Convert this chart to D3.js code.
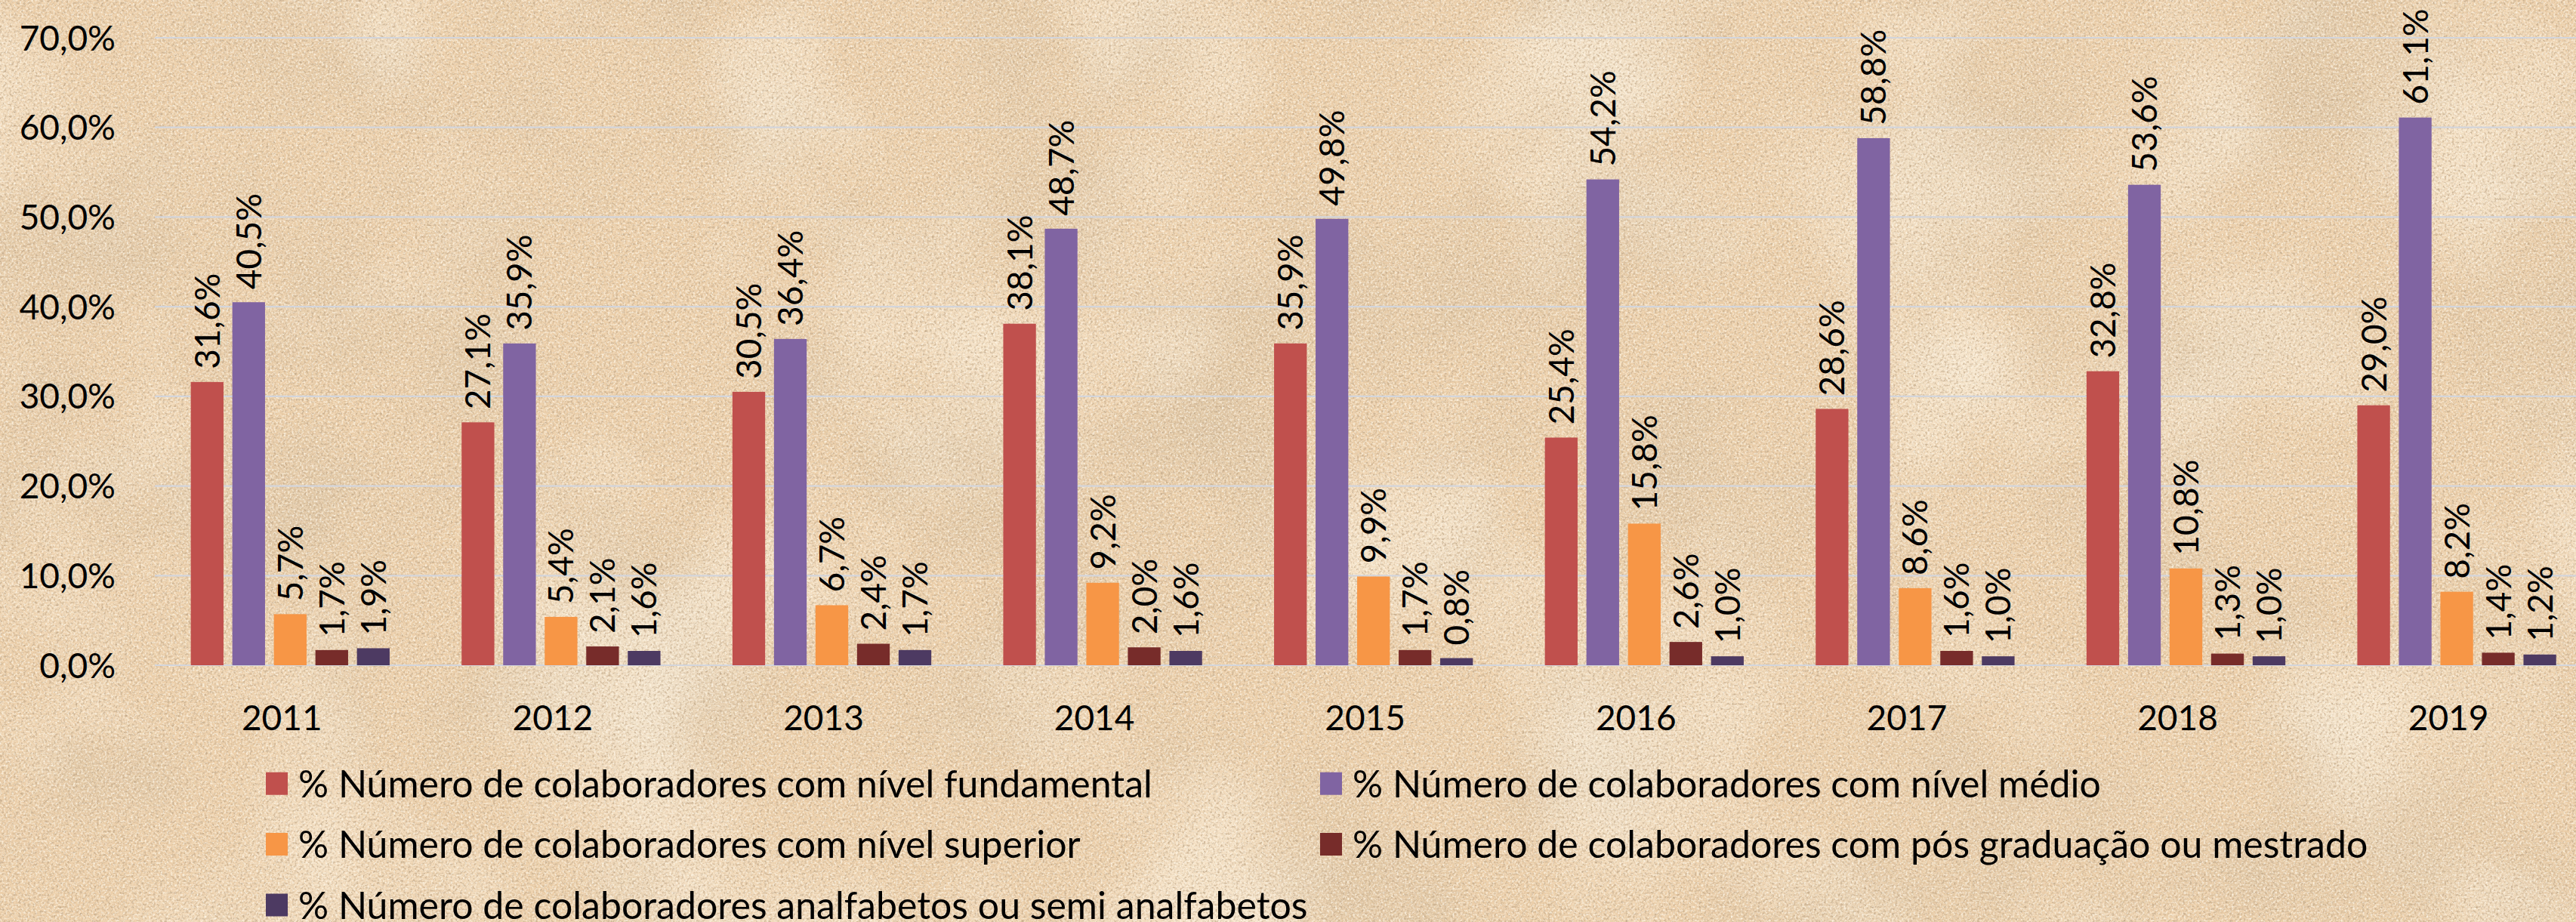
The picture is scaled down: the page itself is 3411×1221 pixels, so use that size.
<!DOCTYPE html>
<html><head><meta charset="utf-8">
<script src="https://cdn.jsdelivr.net/npm/d3@7"></script>
<style>
html,body{margin:0;padding:0;overflow:hidden;background:#ECCFAA;}
svg{display:block;}
text{font-family:Lato,"Open Sans",sans-serif;fill:#000;}
</style></head>
<body>
<svg id="chart" width="3411" height="1221"></svg>
<script>
const years = ["2011","2012","2013","2014","2015","2016","2017","2018","2019"];
const seriesNames = [
  "% Número de colaboradores com nível fundamental",
  "% Número de colaboradores com nível médio",
  "% Número de colaboradores com nível superior",
  "% Número de colaboradores com pós graduação ou mestrado",
  "% Número de colaboradores analfabetos ou semi analfabetos"
];
const fundamental = [31.6, 27.1, 30.5, 38.1, 35.9, 25.4, 28.6, 32.8, 29.0];
const medio       = [40.5, 35.9, 36.4, 48.7, 49.8, 54.2, 58.8, 53.6, 61.1];
const superior    = [5.7, 5.4, 6.7, 9.2, 9.9, 15.8, 8.6, 10.8, 8.2];
const posGrad     = [1.7, 2.1, 2.4, 2.0, 1.7, 2.6, 1.6, 1.3, 1.4];
const analfabetos = [1.9, 1.6, 1.7, 1.6, 0.8, 1.0, 1.0, 1.0, 1.2];
const yTicks = [0, 10, 20, 30, 40, 50, 60, 70];
const colors = ["#C0504D", "#8064A2", "#F79646", "#772C2A", "#4D3A62"];

const seriesValues = [fundamental, medio, superior, posGrad, analfabetos];

const svg = d3.select("#chart");
const W = 3411, H = 1221;

// parchment background texture
const defs = svg.append("defs");
function noiseFilter(id, freq, oct, seed, rgb, a, b) {
  const f = defs.append("filter").attr("id", id).attr("x",0).attr("y",0)
    .attr("width","100%").attr("height","100%").attr("filterUnits","userSpaceOnUse");
  f.append("feTurbulence").attr("type","fractalNoise").attr("baseFrequency",freq)
    .attr("numOctaves",oct).attr("seed",seed).attr("result","n");
  f.append("feColorMatrix").attr("in","n").attr("type","matrix")
    .attr("values",`0 0 0 0 ${rgb[0]}  0 0 0 0 ${rgb[1]}  0 0 0 0 ${rgb[2]}  ${a} 0 0 0 ${b}`);
}
noiseFilter("mottle", "0.004", 4, 9, [0.74, 0.57, 0.38], 2.4, -1.1);
noiseFilter("lightm", "0.003", 3, 21, [1.0, 0.93, 0.80], 1.6, -0.78);
noiseFilter("dark", "0.32", 3, 2, [0.52, 0.38, 0.24], 2.3, -1.08);
noiseFilter("light", "0.38", 2, 7, [1.0, 0.94, 0.82], 2.2, -1.0);

svg.append("rect").attr("width",W).attr("height",H).attr("fill","#ECCFAA");
["mottle","lightm","dark","light"].forEach(id =>
  svg.append("rect").attr("width",W).attr("height",H).attr("fill","#fff").attr("filter",`url(#${id})`));

const plotLeft = 205, step = 358.6, plotTop = 50, plotBottom = 881;
const x0 = d3.scaleBand().domain(years).range([plotLeft, plotLeft + step*years.length]).padding(0);
const y = d3.scaleLinear().domain([0, 70]).range([plotBottom, plotTop]);
const groupW = 263.3;
const x1 = d3.scaleBand().domain(d3.range(5)).range([0, groupW]).paddingInner(0.2127).paddingOuter(0);

// gridlines
svg.append("g").selectAll("line").data(yTicks).join("line")
  .attr("x1", plotLeft).attr("x2", W + 40)
  .attr("y1", d => y(d)).attr("y2", d => y(d))
  .attr("stroke", "#D3D5DB").attr("stroke-width", 2.2);

const fmt = v => d3.format(".1f")(v).replace(".", ",") + "%";

// y axis labels
svg.append("g").selectAll("text").data(yTicks).join("text")
  .attr("x", 153).attr("y", d => y(d)).attr("dy","0.36em")
  .attr("text-anchor","end").attr("font-size", 46)
  .text(d => fmt(d));

// bars
const groups = svg.append("g").selectAll("g").data(years).join("g")
  .attr("transform", d => `translate(${x0(d) + (x0.bandwidth() - groupW)/2},0)`);

groups.each(function(yr, i) {
  const g = d3.select(this);
  seriesValues.forEach((vals, s) => {
    const v = vals[i];
    g.append("rect")
      .attr("x", x1(s)).attr("width", x1.bandwidth())
      .attr("y", y(v)).attr("height", y(0) - y(v))
      .attr("fill", colors[s]);
    const cx = x1(s) + x1.bandwidth()/2;
    const ly = y(v) - 17;
    g.append("text")
      .attr("transform", `translate(${cx},${ly}) rotate(-90)`)
      .attr("dy", "0.36em")
      .attr("text-anchor", "start")
      .attr("font-size", 46)
      .text(fmt(v));
  });
});

// x axis labels
svg.append("g").selectAll("text").data(years).join("text")
  .attr("x", d => x0(d) + x0.bandwidth()/2 - 11)
  .attr("y", 967)
  .attr("text-anchor","middle").attr("font-size", 46)
  .text(d => d);

// legend
const legendPos = [
  {c:0, r:0}, {c:1, r:0}, {c:0, r:1}, {c:1, r:1}, {c:0, r:2}
];
const colX = [352, 1748], rowY = [1037.7, 1118, 1198.5];
const leg = svg.append("g").selectAll("g").data(seriesNames).join("g")
  .attr("transform", (d,i) => `translate(${colX[legendPos[i].c]},${rowY[legendPos[i].r]})`);
leg.append("rect").attr("x",0).attr("y",-15).attr("width",29).attr("height",30)
  .attr("fill",(d,i)=>colors[i]);
leg.append("text").attr("x",43).attr("dy","0.36em").attr("font-size",50).text(d=>d);
</script>
</body></html>
